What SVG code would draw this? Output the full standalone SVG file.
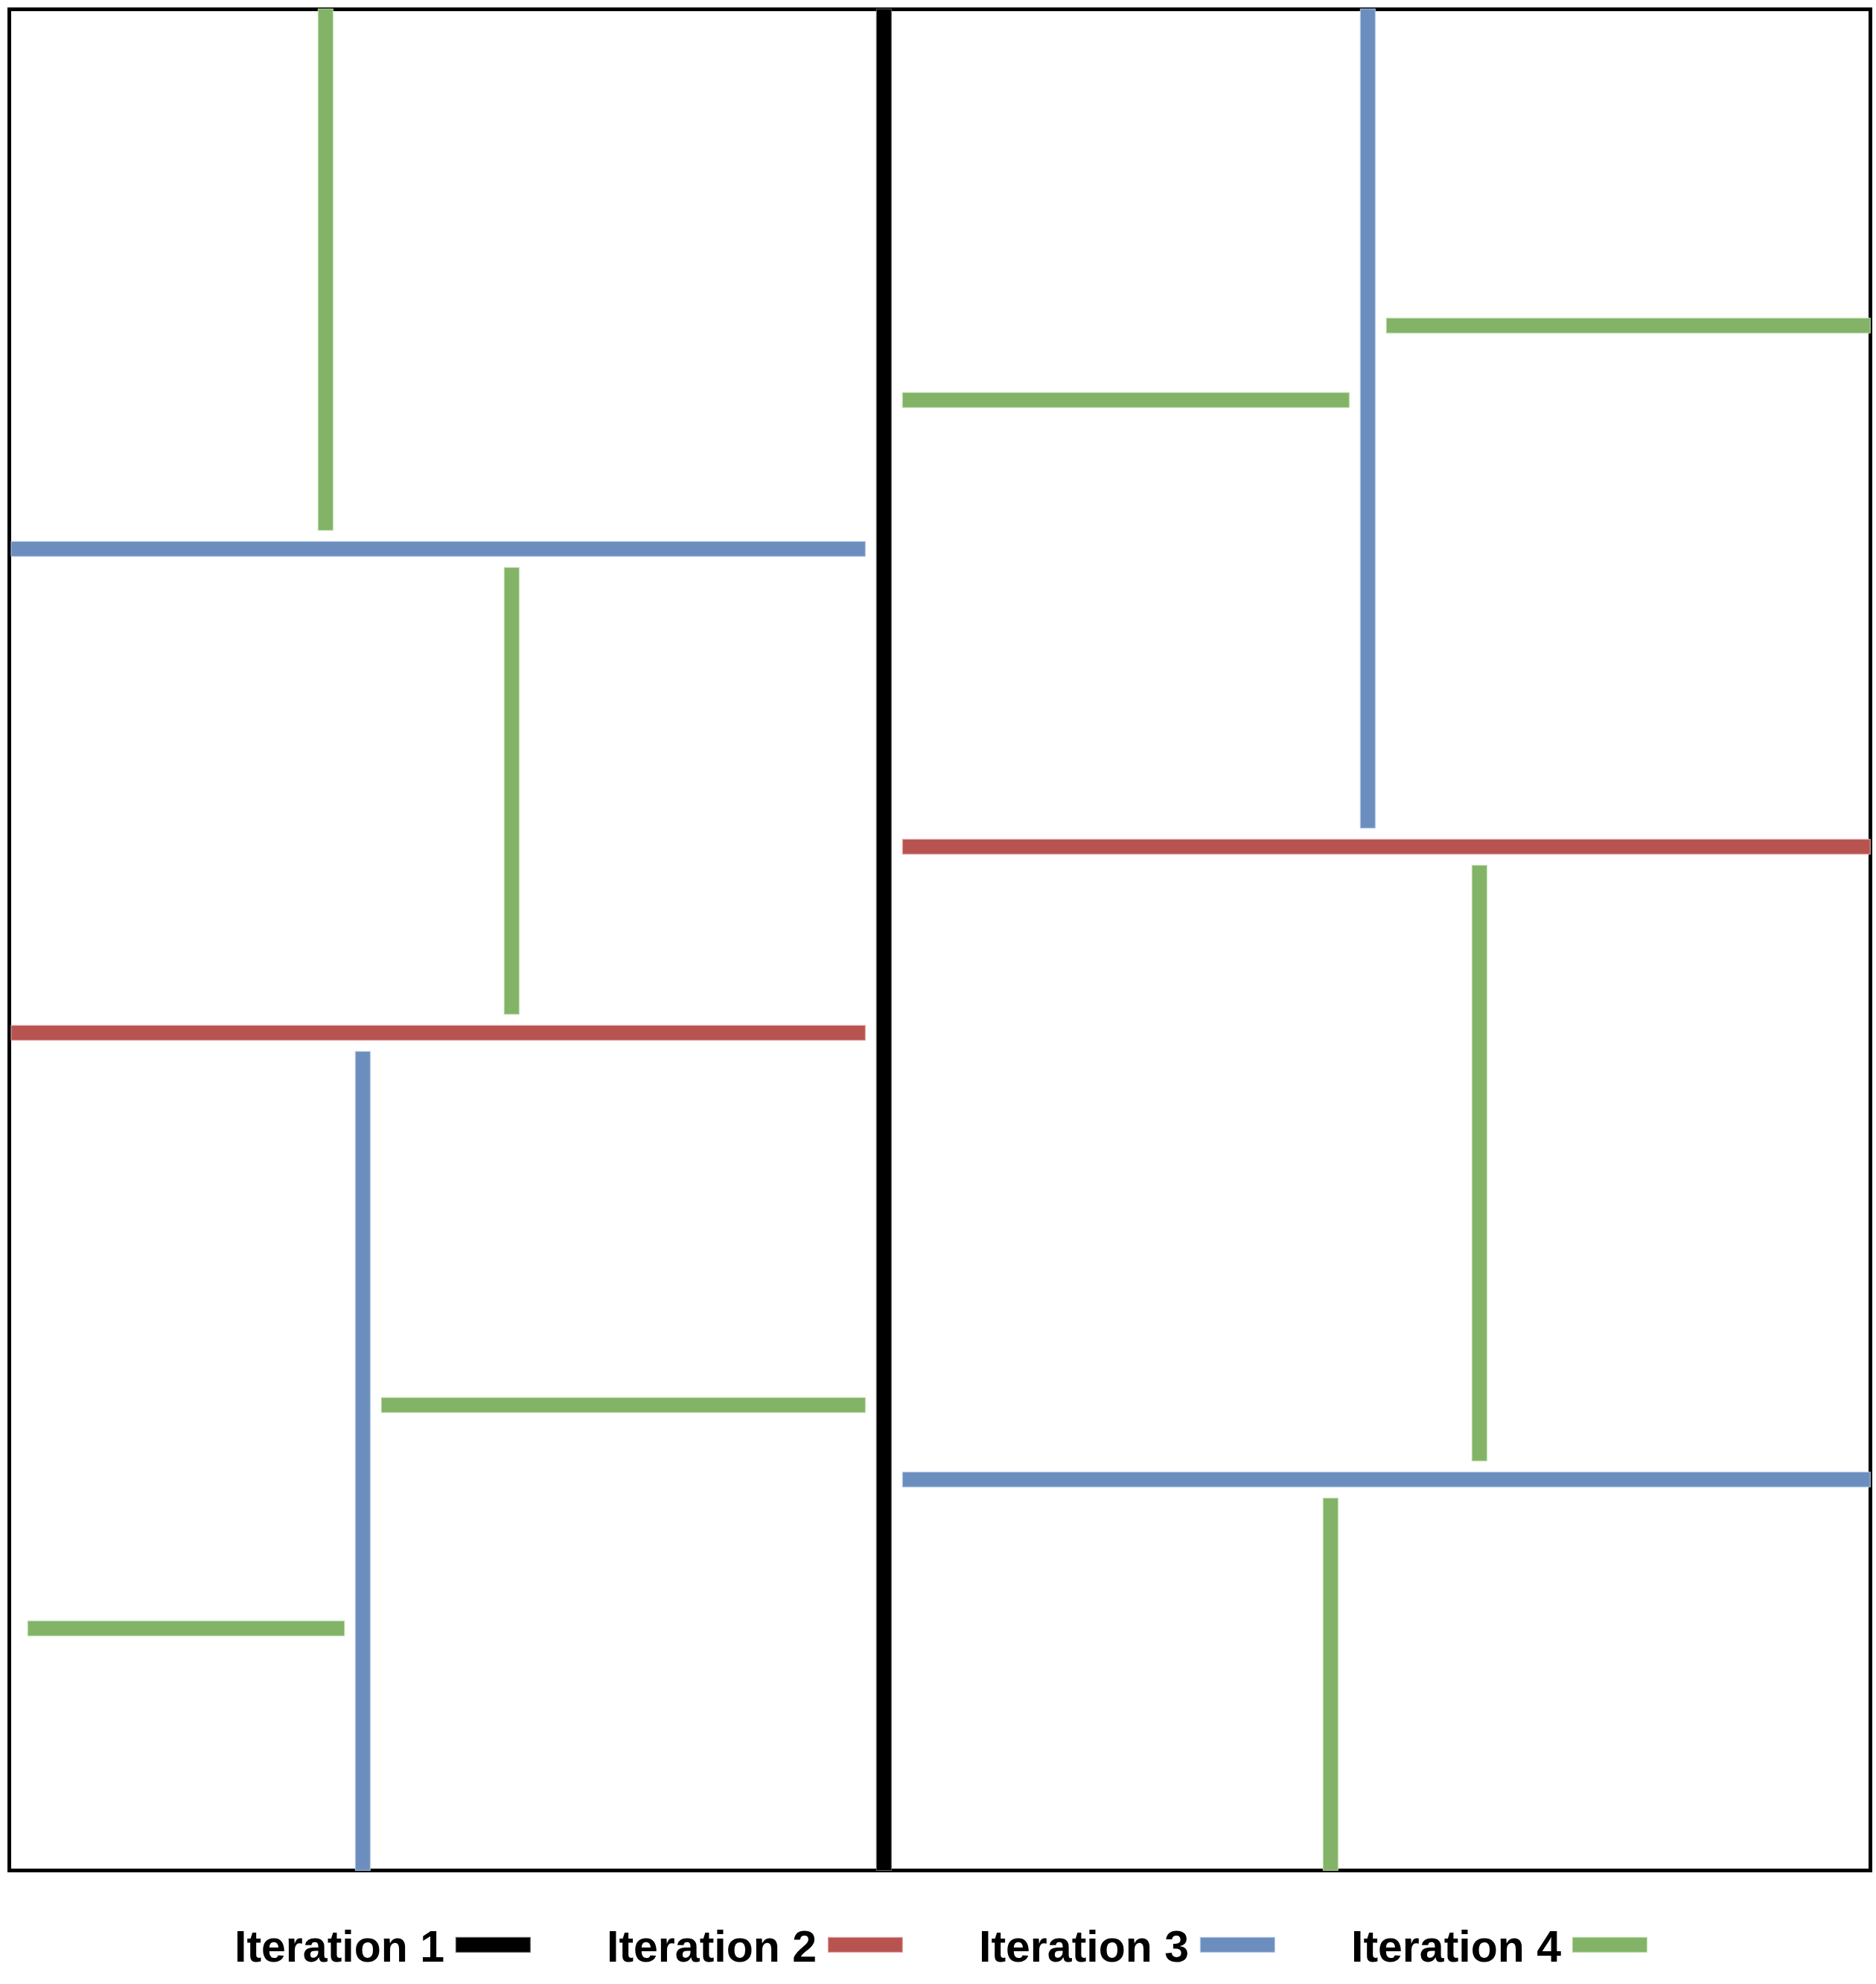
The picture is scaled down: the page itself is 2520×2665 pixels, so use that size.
<svg xmlns="http://www.w3.org/2000/svg" width="2520" height="2665" viewBox="0 0 2520 2665">
<style>
.frame{fill:none;stroke:#000;stroke-width:5}
.it1{fill:#000;stroke:#666;stroke-width:1}
.it2{fill:#b85450;stroke:#e6a9a6;stroke-width:1}
.it3{fill:#6c8ebf;stroke:#b3c8e6;stroke-width:1}
.it4{fill:#82b366;stroke:#bcdcaa;stroke-width:1}
.lbl{font-family:"Liberation Sans",Arial,sans-serif;font-weight:bold;font-size:59px;fill:#000}
</style>
<rect width="2520" height="2665" fill="#fff"/>
<rect id="frame" class="frame" x="12.5" y="12.5" width="2500" height="2500"/>
<g id="iteration1">
  <rect class="it1" x="1177.3" y="12" width="20" height="2500.5"/>
</g>
<g id="iteration2">
  <rect class="it2" x="15" y="1377.3" width="1147.3" height="20"/>
  <rect class="it2" x="1212.3" y="1127.3" width="1300" height="20"/>
</g>
<g id="iteration3">
  <rect class="it3" x="15" y="727.3" width="1147.3" height="20"/>
  <rect class="it3" x="477.3" y="1412.3" width="20" height="1100"/>
  <rect class="it3" x="1827.3" y="12" width="20" height="1100.3"/>
  <rect class="it3" x="1212.3" y="1977.3" width="1300" height="20"/>
</g>
<g id="iteration4">
  <rect class="it4" x="427.3" y="12" width="20" height="700.3"/>
  <rect class="it4" x="677.3" y="762.3" width="20" height="600"/>
  <rect class="it4" x="512.3" y="1877.3" width="650" height="20"/>
  <rect class="it4" x="37.3" y="2177.3" width="425.4" height="20"/>
  <rect class="it4" x="1212.3" y="527.3" width="600" height="20"/>
  <rect class="it4" x="1862.3" y="427.3" width="650" height="20"/>
  <rect class="it4" x="1977.3" y="1162.3" width="20" height="800"/>
  <rect class="it4" x="1777.3" y="2012.3" width="20" height="500"/>
</g>
<g id="legend">
  <g id="legend1">
    <text class="lbl" x="315" y="2635">Iteration 1</text>
    <rect class="it1" x="612.3" y="2602.3" width="100" height="20"/>
  </g>
  <g id="legend2">
    <text class="lbl" x="815" y="2635">Iteration 2</text>
    <rect class="it2" x="1112.3" y="2602.3" width="100" height="20"/>
  </g>
  <g id="legend3">
    <text class="lbl" x="1315" y="2635">Iteration 3</text>
    <rect class="it3" x="1612.3" y="2602.3" width="100" height="20"/>
  </g>
  <g id="legend4">
    <text class="lbl" x="1815" y="2635">Iteration 4</text>
    <rect class="it4" x="2112.3" y="2602.3" width="100" height="20"/>
  </g>
</g>
</svg>
